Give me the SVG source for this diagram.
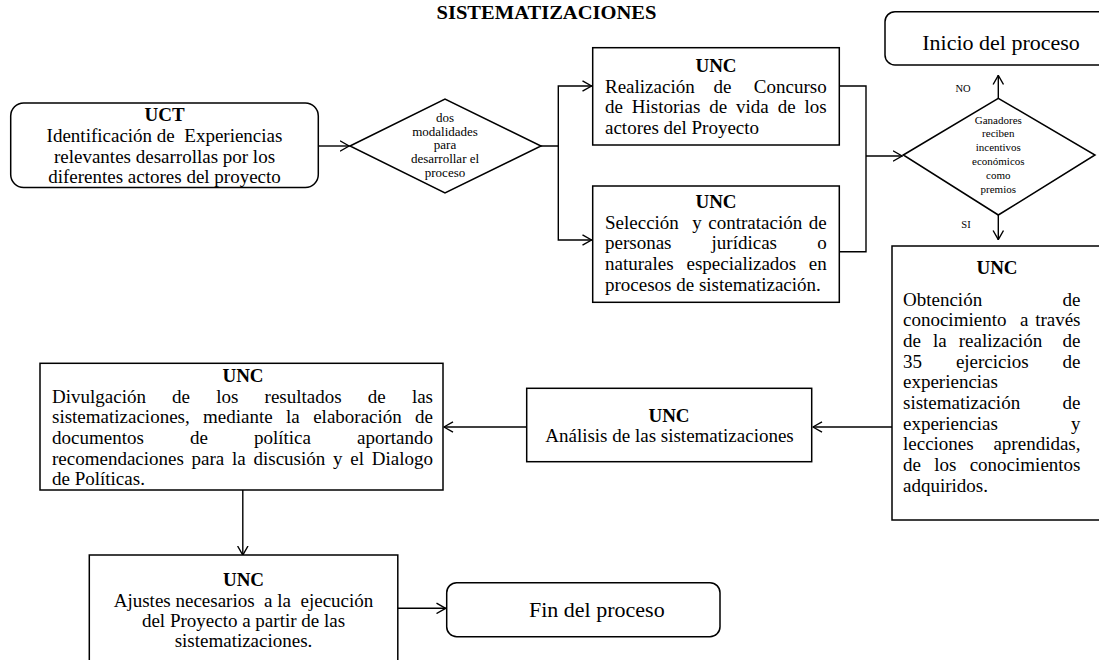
<svg xmlns="http://www.w3.org/2000/svg" width="1099" height="660" viewBox="0 0 1099 660">
<defs>
<style>
.t{font-family:"Liberation Serif","Times New Roman",serif;font-size:19px;fill:#000}
.b{font-weight:bold}
.m{text-anchor:middle}
.e{text-anchor:end}
.d1{font-size:13px}
.d2{font-size:11px}
.lb{font-size:10.5px}
.big{font-size:22px}
.box{fill:#fff;stroke:#000;stroke-width:1.5}
.ln{fill:none;stroke:#000;stroke-width:1.4}
</style>
<marker id="arr" viewBox="0 0 10 12" refX="10" refY="6" markerWidth="10" markerHeight="12" markerUnits="userSpaceOnUse" orient="auto"><path d="M0.5,0.8 L9.6,6 L0.5,11.2" fill="none" stroke="#000" stroke-width="1.4"/></marker>
</defs>
<rect x="0" y="0" width="1099" height="660" fill="#fff"/>

<text id="title" class="t b m" x="546.5" y="18.5" font-size="20" textLength="220" lengthAdjust="spacingAndGlyphs">SISTEMATIZACIONES</text>

<g id="connectors">
<path class="ln" d="M318.3,146 H349.5" marker-end="url(#arr)"/>
<path class="ln" d="M541,146 H558.3 V86 H592" marker-end="url(#arr)"/>
<path class="ln" d="M558.3,146 V240 H592" marker-end="url(#arr)"/>
<path class="ln" d="M839.3,86 H866 V251.7 H839.3"/>
<path class="ln" d="M866,156 H902.5" marker-end="url(#arr)"/>
<path class="ln" d="M998.3,98.3 V75" marker-end="url(#arr)"/>
<path class="ln" d="M998.3,215 V240" marker-end="url(#arr)"/>
<path class="ln" d="M892,427 H812.5" marker-end="url(#arr)"/>
<path class="ln" d="M526.7,427 H443.5" marker-end="url(#arr)"/>
<path class="ln" d="M242.8,490 V555.5" marker-end="url(#arr)"/>
<path class="ln" d="M397.8,608.3 H446" marker-end="url(#arr)"/>
<text class="t lb" x="963" y="91.5" text-anchor="middle">NO</text>
<text class="t lb" x="966" y="228" text-anchor="middle">SI</text>
</g>

<g id="uct">
<rect class="box" x="10.7" y="103" width="307.6" height="84.5" rx="13"/>
<text class="t b m" x="164.5" y="120.7">UCT</text>
<text class="t m" x="164.5" y="142" xml:space="preserve">Identificación de  Experiencias</text>
<text class="t m" x="164.5" y="162.7">relevantes desarrollas por los</text>
<text class="t m" x="164.5" y="183">diferentes actores del proyecto</text>
</g>

<g id="decision1">
<polygon class="box" points="350,146 445,99 541,146 445,193"/>
<text class="t d1 m" x="445" y="122">dos</text>
<text class="t d1 m" x="445" y="135.7">modalidades</text>
<text class="t d1 m" x="445" y="149.4">para</text>
<text class="t d1 m" x="445" y="163.1">desarrollar el</text>
<text class="t d1 m" x="445" y="176.8">proceso</text>
</g>

<g id="concurso">
<rect class="box" x="592.7" y="47.7" width="246.6" height="97.3"/>
<text class="t b m" x="716" y="72">UNC</text>
<text class="t" y="92.7"><tspan x="605">Realización</tspan><tspan x="713.5">de</tspan><tspan x="826.7" class="e">Concurso</tspan></text>
<text class="t" y="113.3"><tspan x="605">de</tspan><tspan x="631.8">Historias</tspan><tspan x="709.3">de</tspan><tspan x="736.1">vida</tspan><tspan x="777.7">de</tspan><tspan x="826.7" class="e">los</tspan></text>
<text class="t" x="605" y="133.5">actores del Proyecto</text>
</g>

<g id="seleccion">
<rect class="box" x="592.7" y="186" width="246.6" height="116.3"/>
<text class="t b m" x="716" y="208.3">UNC</text>
<text class="t" y="229.3"><tspan x="605">Selección</tspan><tspan x="692.2">y</tspan><tspan x="708.3">contratación</tspan><tspan x="826.7" class="e">de</tspan></text>
<text class="t" y="249.3"><tspan x="605">personas</tspan><tspan x="711.6">jurídicas</tspan><tspan x="826.7" class="e">o</tspan></text>
<text class="t" y="270"><tspan x="605">naturales</tspan><tspan x="686.5">especializados</tspan><tspan x="826.7" class="e">en</tspan></text>
<text class="t" x="605" y="290.7">procesos de sistematización.</text>
</g>

<g id="decision2">
<polygon class="box" points="903.3,155 998.3,98.3 1095,155 998.3,215"/>
<text class="t d2 m" x="998.3" y="123.5">Ganadores</text>
<text class="t d2 m" x="998.3" y="137.3">reciben</text>
<text class="t d2 m" x="998.3" y="151.1">incentivos</text>
<text class="t d2 m" x="998.3" y="164.9">económicos</text>
<text class="t d2 m" x="998.3" y="178.7">como</text>
<text class="t d2 m" x="998.3" y="192.5">premios</text>
</g>

<g id="inicio">
<rect class="box" x="885" y="11.7" width="240" height="53.3" rx="10"/>
<text class="t big m" x="1001" y="50">Inicio del proceso</text>
</g>

<g id="obtencion">
<rect class="box" x="892" y="246" width="215" height="274"/>
<text class="t b m" x="997" y="274.3">UNC</text>
<text class="t" y="305.5"><tspan x="903">Obtención</tspan><tspan x="1080.5" class="e">de</tspan></text>
<text class="t" y="326.2"><tspan x="903">conocimiento</tspan><tspan x="1019.9">a</tspan><tspan x="1080.5" class="e">través</tspan></text>
<text class="t" y="346.9"><tspan x="903">de</tspan><tspan x="933">la</tspan><tspan x="958.8">realización</tspan><tspan x="1080.5" class="e">de</tspan></text>
<text class="t" y="367.6"><tspan x="903">35</tspan><tspan x="955.9">ejercicios</tspan><tspan x="1080.5" class="e">de</tspan></text>
<text class="t" x="903" y="388.3">experiencias</text>
<text class="t" y="409"><tspan x="903">sistematización</tspan><tspan x="1080.5" class="e">de</tspan></text>
<text class="t" y="429.7"><tspan x="903">experiencias</tspan><tspan x="1080.5" class="e">y</tspan></text>
<text class="t" y="450.4"><tspan x="903">lecciones</tspan><tspan x="1080.5" class="e">aprendidas,</tspan></text>
<text class="t" y="471.1"><tspan x="903">de</tspan><tspan x="934.2">los</tspan><tspan x="1080.5" class="e">conocimientos</tspan></text>
<text class="t" x="903" y="491.8">adquiridos.</text>
</g>

<g id="analisis">
<rect class="box" x="526.7" y="388.3" width="285" height="73.4"/>
<text class="t b m" x="669" y="421.7">UNC</text>
<text class="t m" x="669.5" y="441.7">Análisis de las sistematizaciones</text>
</g>

<g id="divulgacion">
<rect class="box" x="40" y="363.3" width="403" height="126.7"/>
<text class="t b m" x="243" y="381.7">UNC</text>
<text class="t" y="402.7"><tspan x="52">Divulgación</tspan><tspan x="172.1">de</tspan><tspan x="216.2">los</tspan><tspan x="264.6">resultados</tspan><tspan x="367.8">de</tspan><tspan x="433" class="e">las</tspan></text>
<text class="t" y="423.3"><tspan x="52">sistematizaciones,</tspan><tspan x="203">mediante</tspan><tspan x="286.1">la</tspan><tspan x="313.2">elaboración</tspan><tspan x="433" class="e">de</tspan></text>
<text class="t" y="444"><tspan x="52">documentos</tspan><tspan x="189.9">de</tspan><tspan x="253.9">política</tspan><tspan x="433" class="e">aportando</tspan></text>
<text class="t" y="465"><tspan x="52">recomendaciones</tspan><tspan x="191.6">para</tspan><tspan x="232.1">la</tspan><tspan x="253.5">discusión</tspan><tspan x="333.1">y</tspan><tspan x="350.3">el</tspan><tspan x="433" class="e">Dialogo</tspan></text>
<text class="t" x="52" y="485">de Políticas.</text>
</g>

<g id="ajustes">
<rect class="box" x="89.3" y="555" width="308.5" height="115"/>
<text class="t b m" x="243.5" y="586">UNC</text>
<text class="t m" x="243.5" y="606.7" xml:space="preserve">Ajustes necesarios  a la  ejecución</text>
<text class="t m" x="243.5" y="627.3">del Proyecto a partir de las</text>
<text class="t m" x="243.5" y="647.3">sistematizaciones.</text>
</g>

<g id="fin">
<rect class="box" x="446.7" y="582.7" width="273.3" height="54" rx="10"/>
<text class="t big" x="529" y="616.5">Fin del proceso</text>
</g>
</svg>
